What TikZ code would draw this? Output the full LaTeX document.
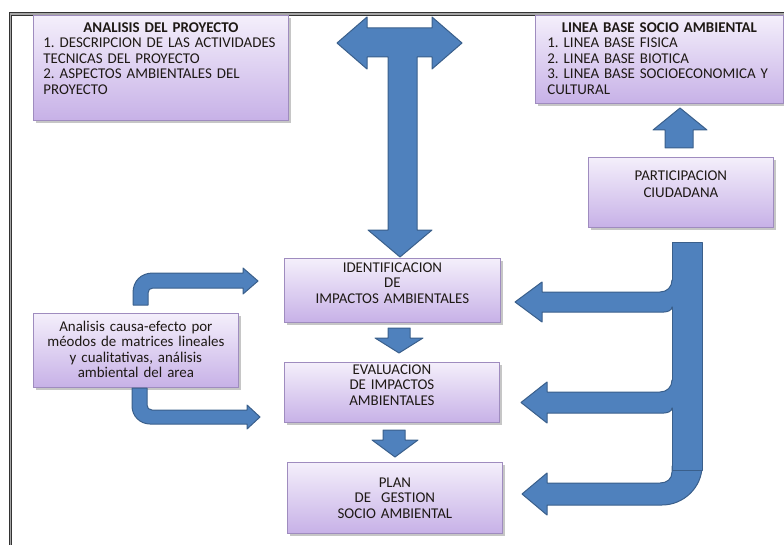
\documentclass[tikz,border=0pt]{standalone}
\usepackage{fontspec}
\setmainfont{Carlito}
\usepackage{tikz}
\usepackage{xcolor}
\usetikzlibrary{shadows}

\definecolor{arrowblue}{HTML}{4F81BD}
\definecolor{arrowedge}{HTML}{3A5F8B}
\definecolor{boxtop}{HTML}{F4EFFB}
\definecolor{boxbot}{HTML}{C7B1E7}
\definecolor{boxline}{HTML}{9F8CBF}
\definecolor{txt}{HTML}{1E1915}

\newcommand{\boxfont}{\fontsize{11.2}{11.6}\selectfont\frenchspacing\hyphenpenalty=10000\fontdimen2\font=0.2em}

\begin{document}
\begin{tikzpicture}[x=0.75pt, y=-0.75pt,
  box/.style={draw=boxline, line width=0.6pt, top color=boxtop, bottom color=boxbot,
    drop shadow={shadow xshift=1.8pt, shadow yshift=-2pt, fill=black!50, opacity=0.45},
    anchor=north west, inner xsep=5pt, inner ysep=0pt, align=center, text=txt,
    font=\boxfont},
  blockarrow/.style={fill=arrowblue, draw=arrowedge, line width=0.75pt, line join=round}]
\useasboundingbox (0,0) rectangle (784,545);

% frame
\draw[double=gray!70, double distance=1.2pt, line width=0.7pt, black!80] (10.5,14) rectangle (820,580);

% boxes
\node[box, align=left, inner xsep=7.5pt, text width=176.25pt, text height=12.75pt, text depth=66pt]
  (proyecto) at (33,15) {\makebox[\linewidth]{\bfseries ANALISIS DEL PROYECTO}\\
  1. DESCRIPCION DE LAS ACTIVIDADES\\ TECNICAS DEL PROYECTO\\
  2. ASPECTOS AMBIENTALES DEL\\ PROYECTO};
\node[box, align=left, inner xsep=9pt, text width=168pt, text height=12.75pt, text depth=53.25pt]
  (lineabase) at (535,15) {\makebox[\linewidth]{\bfseries LINEA BASE SOCIO AMBIENTAL}\\
  1. LINEA BASE FISICA\\ 2. LINEA BASE BIOTICA\\
  3. LINEA BASE SOCIOECONOMICA Y\\ CULTURAL};
\node[box, text width=128.75pt, text height=17.25pt, text depth=35.25pt]
  (participacion) at (588,157) {PARTICIPACION\\[1.5pt] CIUDADANA};
\node[box, text width=152pt, text height=10.5pt, text depth=37.5pt]
  (identificacion) at (284,258) {IDENTIFICACION\\ DE\\ IMPACTOS AMBIENTALES};
\node[box, text width=151.25pt, text height=9pt, text depth=36pt]
  (evaluacion) at (284,362) {EVALUACION\\ DE IMPACTOS\\ AMBIENTALES};
\node[box, text width=151.25pt, text height=18.75pt, text depth=34.5pt]
  (gestion) at (287,462) {PLAN\\ DE~~GESTION\\ SOCIO AMBIENTAL};
\node[box, inner xsep=4pt, text width=145.75pt, text height=13.5pt, text depth=42pt]
  (causa) at (33,313) {Analisis causa-efecto por\\ méodos de matrices lineales\\
  y cualitativas, análisis\\ ambiental del area};

% T arrow between the two upper boxes
\draw[blockarrow] (367,28) -- (367,17) -- (337,43) -- (367,69) -- (367,57) -- (388,57)
  -- (388,230) -- (368,230) -- (400,257) -- (432,230) -- (417,230) -- (417,57)
  -- (432,57) -- (432,69) -- (462,43) -- (432,17) -- (432,28) -- cycle;

% up arrow to linea base
\draw[blockarrow] (665,148) -- (665,130) -- (653,130) -- (680,108) -- (707,130)
  -- (693,130) -- (693,148) -- cycle;

% down arrows in the centre column
\draw[blockarrow] (388,328) -- (410,328) -- (410,338) -- (423,338) -- (399,353)
  -- (375,338) -- (388,338) -- cycle;
\draw[blockarrow] (383,430) -- (405,430) -- (405,440) -- (418,440) -- (395,457)
  -- (372,440) -- (383,440) -- cycle;

% bent arrows from the causa-efecto box
\draw[blockarrow] (133,305) -- (133,293) .. controls (133,281) and (141,273) .. (153,273)
  -- (243,273) -- (243,268) -- (258,281) -- (243,294) -- (243,288) -- (153,288)
  .. controls (150,288) and (148,290) .. (148,293) -- (148,305) -- cycle;
\draw[blockarrow] (132,388) -- (147,388) -- (147,405) .. controls (147,408) and (149,410) .. (152,410)
  -- (247,410) -- (247,405) -- (260,417) -- (247,429) -- (247,424) -- (150,424)
  .. controls (140,424) and (132,416) .. (132,406) -- cycle;

% participacion ciudadana feeds the three boxes
\draw[blockarrow] (672,466) -- (672,472) .. controls (672,479) and (667,483) .. (660,483)
  -- (547,483) -- (547,473) -- (522,494) -- (547,515) -- (547,505) -- (662,505)
  .. controls (684,505) and (702,487) .. (702,466) -- cycle;
\draw[blockarrow] (672,242) rectangle (702,470);
\draw[blockarrow] (690,280) -- (672,280) .. controls (672,287) and (667,292) .. (660,292)
  -- (542,292) -- (542,282) -- (515,302) -- (542,322) -- (542,312) -- (664,312)
  .. controls (668,312) and (672,310) .. (672,307) -- (690,307) -- cycle;
\draw[blockarrow] (690,380) -- (672,380) .. controls (672,387) and (667,392) .. (660,392)
  -- (547,392) -- (547,382) -- (521,402.5) -- (547,423) -- (547,413) -- (664,413)
  .. controls (668,413) and (672,411) .. (672,408) -- (690,408) -- cycle;
\fill[arrowblue] (672.7,242.7) rectangle (701.3,469.3);
\end{tikzpicture}
\end{document}
